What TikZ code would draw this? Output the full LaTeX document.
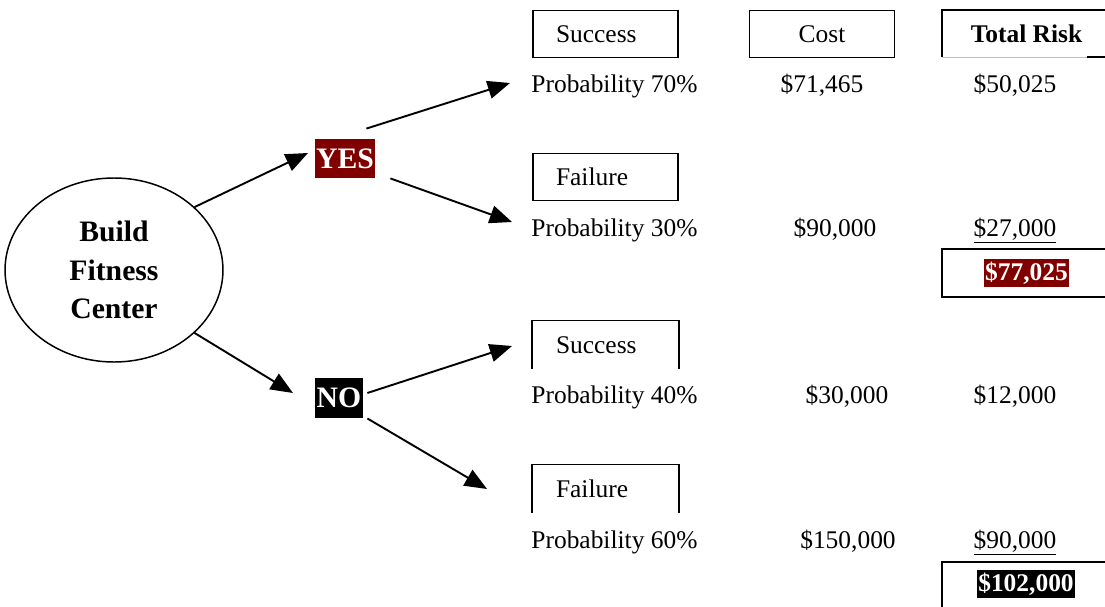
\documentclass[tikz,border=0pt]{standalone}
\usepackage{fontspec}
\setmainfont{Liberation Serif}
\usetikzlibrary{arrows.meta, shapes.geometric}
\definecolor{yesred}{RGB}{128,0,0}
\tikzset{oval/.style = {shape = ellipse, draw, line width = 0.7pt, minimum width = 102.8pt, minimum height = 86.8pt, inner sep = 0pt, align = center, font = \fontsize{14}{18}\selectfont\bfseries}}
\tikzset{choice/.style = {text = white, font = \fontsize{14}{16}\selectfont\bfseries, inner sep = 0pt}}
\tikzset{headbox/.style = {line width = 0.8pt, minimum width = 68.4pt, minimum height = 22.2pt, font = \fontsize{12}{14}\selectfont}}
\tikzset{headleft/.style = {headbox, text width = 46.7pt, inner xsep = 10.85pt, align = left}}
\tikzset{entry/.style = {font = \fontsize{12}{14}\selectfont, inner sep = 0pt}}
\tikzset{sumbox/.style = {text = white, font = \fontsize{12}{14}\selectfont\bfseries, inner xsep = 0.5pt, minimum height = 13.2pt, inner ysep = 0pt}}
\tikzset{edge/.style = {-{Triangle[length = 10.5pt, width = 8.5pt]}, line width = 0.9pt}}
\tikzset{rule/.style = {line width = 0.8pt}}

\begin{document}
\begin{tikzpicture}[x = 0.4717pt, y = -0.4717pt]
				\useasboundingbox (0, 0) rectangle (1105, 607);

				\node[oval] (fc) at (114, 270) {Build\\Fitness\\Center};
				\node[choice, fill = yesred, minimum width = 28.3pt, minimum height = 18.4pt] (yes) at (345, 158.5) {YES};
				\node[choice, fill = black, minimum width = 22.6pt, minimum height = 18.9pt] (no) at (339, 398) {NO};

				% headings
				\node[headleft, draw] (s1head) at (605.5, 34) {Success};
				\node[headbox, draw] (costhead) at (822, 34) {Cost};
				\node[headbox, font = \fontsize{12}{14}\selectfont\bfseries] (riskhead) at (1026.5, 34) {Total Risk};
				\node[headleft, draw] (f1head) at (605.5, 177) {Failure};
				\node[headleft] (s2head) at (605.5, 345) {Success};
				\node[headleft] (f2head) at (605.5, 489) {Failure};

				\draw[rule] (1105, 10) -| (942, 57);
				\draw[line width = 0.4pt, black!25] (942, 57) -- (1087, 57);
				\draw[rule] (1087, 57) -- (1105, 57);
				\draw[rule] (s2head.south west) |- (s2head.north east) -- (s2head.south east);
				\draw[rule] (f2head.south west) |- (f2head.north east) -- (f2head.south east);

				% rows
				\node[entry, anchor = base west] (p1) at (531, 92) {Probability 70\%};
				\node[entry, anchor = base] (c1) at (822, 92) {\$71,465};
				\node[entry, anchor = base] (r1) at (1015, 92) {\$50,025};

				\node[entry, anchor = base west] (p2) at (531, 236) {Probability 30\%};
				\node[entry, anchor = base] (c2) at (835, 236) {\$90,000};
				\node[entry, anchor = base] (r2) at (1015, 236) {\underline{\$27,000}};

				\node[entry, anchor = base west] (p3) at (531, 403) {Probability 40\%};
				\node[entry, anchor = base] (c3) at (847, 403) {\$30,000};
				\node[entry, anchor = base] (r3) at (1015, 403) {\$12,000};

				\node[entry, anchor = base west] (p4) at (531, 548) {Probability 60\%};
				\node[entry, anchor = base] (c4) at (848, 548) {\$150,000};
				\node[entry, anchor = base] (r4) at (1015, 548) {\underline{\$90,000}};

				% totals
				\draw[rule] (1105, 249) -| (942, 297) -- (1105, 297);
				\node[sumbox, fill = yesred] (tot1) at (1026.5, 273) {\$77,025};
				\draw[rule] (1105, 562) -| (942, 607);
				\node[sumbox, fill = black] (tot2) at (1026, 584) {\$102,000};

				% branches
				\coordinate (ta) at (308, 153);
				\coordinate (tb) at (510, 83);
				\coordinate (tc) at (512, 222);
				\coordinate (td) at (293, 393);
				\coordinate (te) at (512, 346);
				\coordinate (tf) at (487, 489);

				\draw[edge] (fc.38) -- (ta);
				\draw[edge] ([shift = {(-9, -10)}]yes.north east) -- (tb);
				\draw[edge] ([shift = {(15, 0)}]yes.south east) -- (tc);
				\draw[edge] (fc.-38) -- (td);
				\draw[edge] ([shift = {(4, -5)}]no.east) -- (te);
				\draw[edge] ([shift = {(4, 0)}]no.south east) -- (tf);
			\end{tikzpicture}
\end{document}
